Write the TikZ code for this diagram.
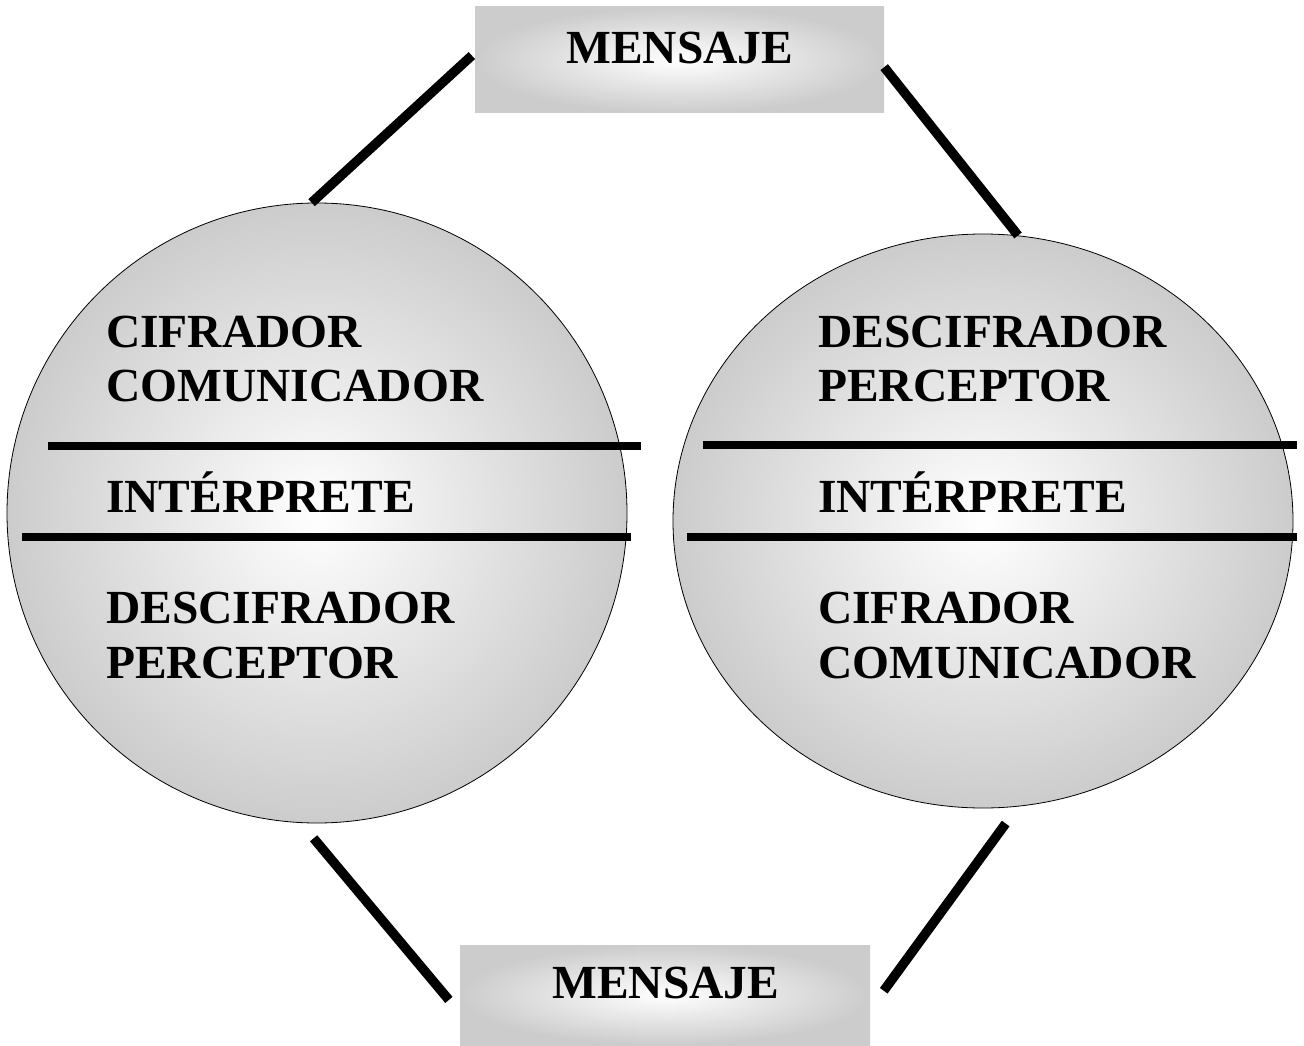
\documentclass[tikz,border=0pt]{standalone}
\usepackage{fontspec}
\setmainfont{Liberation Serif}
\usetikzlibrary{positioning,shapes.geometric}

\tikzset{
  esfera/.style={draw, ellipse, line width=0.8pt, inner color=white, outer color=black!20},
  mensaje/.style={rectangle, inner color=white, outer color=black!20, inner sep=0pt},
  rotulo/.style={anchor=base west, inner sep=0pt, font=\fontsize{47.5}{53}\selectfont\bfseries},
  raya/.style={line width=8pt},
  union/.style={line width=9.5pt},
}

\begin{document}
\begin{tikzpicture}[x=1pt, y=-1pt]
    \useasboundingbox (0,0) rectangle (1304,1046);

    % las dos esferas
    \node[esfera, minimum width=620pt, minimum height=620pt] (izq) at (317,513) {};
    \node[esfera, minimum width=620pt, minimum height=574pt] (der) at (983,521) {};

    % cajas del mensaje
    \node[mensaje, minimum width=409pt, minimum height=106pt] (msjsup) at (679.5,60) {};
    \node[mensaje, minimum width=410pt, minimum height=100pt] (msjinf) at (665,995) {};
    \node[rotulo] (txtsup) at (566,64) {MENSAJE};
    \node[rotulo] (txtinf) at (552,998) {MENSAJE};

    % separadores
    \draw[raya] (48,446) -- (641,446);
    \draw[raya] (22,537) -- (631,537);
    \draw[raya] (703,445) -- (1297,445);
    \draw[raya] (687,537) -- (1297,537);

    % esfera izquierda
    \node[rotulo] (cifizq) at (106,347) {CIFRADOR};
    \node[rotulo] (comizq) at (106,401) {COMUNICADOR};
    \node[rotulo] (intizq) at (106,512) {INTÉRPRETE};
    \node[rotulo] (desizq) at (106,623) {DESCIFRADOR};
    \node[rotulo] (perizq) at (106,678) {PERCEPTOR};

    % esfera derecha
    \node[rotulo] (desder) at (818,347) {DESCIFRADOR};
    \node[rotulo] (perder) at (818,401) {PERCEPTOR};
    \node[rotulo] (intder) at (818,512) {INTÉRPRETE};
    \node[rotulo] (cifder) at (818,623) {CIFRADOR};
    \node[rotulo] (comder) at (818,678) {COMUNICADOR};

    % uniones
    \draw[union, shorten <=4pt] (msjsup.178) -- (izq.91);
    \draw[union] (msjsup.-2) -- (der.83);
    \draw[union, shorten <=20pt, shorten >=17pt] (izq.-93) -- (msjinf.185);
    \draw[union, shorten <=21pt, shorten >=23pt] (der.-83) -- (msjinf.-4);
\end{tikzpicture}
\end{document}
